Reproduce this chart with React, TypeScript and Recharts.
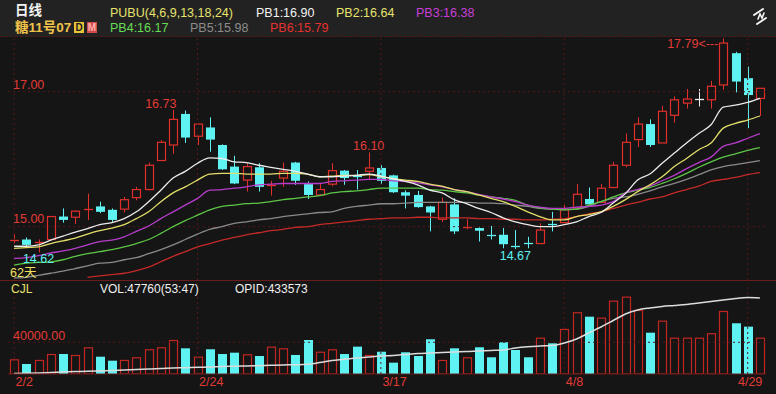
import React from 'react';
import {
  ComposedChart,
  Bar,
  Line,
  XAxis,
  YAxis,
  ReferenceLine,
  ReferenceDot,
} from 'recharts';

// trading days shown (62天)
const dates = [
  '2/2', '2/3', '2/4', '2/5', '2/6', '2/9', '2/10', '2/11', '2/12', '2/13',
  '2/17', '2/18', '2/19', '2/20', '2/23', '2/24', '2/25', '2/26', '2/27',
  '3/2', '3/3', '3/4', '3/5', '3/6', '3/9', '3/10', '3/11', '3/12', '3/13',
  '3/16', '3/17', '3/18', '3/19', '3/20', '3/23', '3/24', '3/25', '3/26',
  '3/27', '3/30', '3/31',
  '4/1', '4/2', '4/6', '4/7', '4/8', '4/9', '4/10', '4/13', '4/14', '4/15',
  '4/16', '4/17', '4/20', '4/21', '4/22', '4/23', '4/24', '4/27', '4/28',
  '4/29', '4/30',
];
const tickDates = ['2/2', '2/24', '3/17', '4/8', '4/29'];

const openP = [
  14.80, 14.81, 14.77, 14.81, 15.15, 15.14, 15.25, 15.30, 15.25, 15.26,
  15.43, 15.55, 15.98, 16.21, 16.67, 16.34, 16.47, 16.21, 15.89, 15.69,
  15.88, 15.61, 15.72, 15.95, 15.63, 15.47, 15.63, 15.83, 15.76, 15.82,
  15.87, 15.76, 15.51, 15.47, 15.30, 15.11, 15.33, 14.99, 14.98, 14.88,
  14.88, 14.72, 14.77, 14.75, 15.05, 15.06, 15.28, 15.41, 15.36, 15.58,
  15.91, 16.29, 16.52, 16.24, 16.65, 16.83, 16.89, 16.88, 17.10, 17.57,
  17.20, 16.90,
];
const highP = [
  14.89, 14.84, 14.81, 15.16, 15.27, 15.24, 15.49, 15.37, 15.27, 15.44,
  15.59, 15.95, 16.28, 16.73, 16.72, 16.53, 16.62, 16.22, 16.05, 15.94,
  15.94, 15.68, 15.95, 15.96, 15.67, 15.63, 15.94, 15.84, 15.84, 16.10,
  15.91, 15.77, 15.54, 15.53, 15.31, 15.43, 15.42, 15.11, 14.99, 15.01,
  14.98, 14.95, 14.85, 15.05, 15.22, 15.32, 15.63, 15.58, 15.63, 15.96,
  16.38, 16.62, 16.59, 16.79, 16.93, 17.04, 17.04, 17.16, 17.79, 17.59,
  17.37, 17.05,
];
const lowP = [
  14.76, 14.70, 14.62, 14.80, 15.06, 15.04, 15.10, 15.20, 15.07, 15.21,
  15.39, 15.54, 15.98, 16.08, 16.24, 16.21, 16.11, 15.84, 15.63, 15.52,
  15.52, 15.46, 15.59, 15.62, 15.41, 15.46, 15.60, 15.62, 15.55, 15.69,
  15.63, 15.50, 15.27, 15.28, 14.93, 15.07, 14.89, 14.96, 14.78, 14.81,
  14.68, 14.67, 14.68, 14.75, 14.93, 15.06, 15.25, 15.32, 15.36, 15.57,
  15.88, 16.18, 16.18, 16.24, 16.54, 16.75, 16.78, 16.75, 17.03, 16.99,
  16.46, 16.64,
];
const closeP = [
  14.81, 14.73, 14.78, 15.15, 15.10, 15.23, 15.26, 15.22, 15.10, 15.40,
  15.55, 15.91, 16.25, 16.59, 16.32, 16.52, 16.29, 15.85, 15.64, 15.89,
  15.59, 15.62, 15.82, 15.68, 15.47, 15.55, 15.83, 15.72, 15.75, 15.87,
  15.68, 15.51, 15.46, 15.29, 15.21, 15.36, 14.93, 15.01, 14.94, 14.87,
  14.74, 14.71, 14.76, 14.95, 15.04, 15.25, 15.48, 15.33, 15.57, 15.91,
  16.25, 16.52, 16.21, 16.71, 16.88, 16.89, 16.89, 17.08, 17.72, 17.15,
  16.95, 17.05,
];

// PUBU(4,6,9,13,18,24) lines
const pb1 = [
  14.71, 14.71, 14.73, 14.80, 14.86, 14.92, 14.97, 15.03, 15.06, 15.12,
  15.22, 15.37, 15.54, 15.72, 15.82, 15.94, 16.02, 16.01, 15.96, 15.95,
  15.91, 15.88, 15.85, 15.82, 15.78, 15.74, 15.74, 15.75, 15.76, 15.78,
  15.75, 15.71, 15.67, 15.62, 15.54, 15.50, 15.40, 15.34, 15.27, 15.21,
  15.13, 15.07, 15.03, 15.00, 15.00, 15.03, 15.07, 15.15, 15.21, 15.35,
  15.49, 15.69, 15.78, 15.94, 16.09, 16.24, 16.38, 16.51, 16.77, 16.80,
  16.84, 16.90,
];
const pb2 = [
  14.68, 14.69, 14.70, 14.75, 14.79, 14.83, 14.89, 14.94, 14.98, 15.03,
  15.12, 15.22, 15.37, 15.50, 15.59, 15.69, 15.78, 15.79, 15.79, 15.78,
  15.78, 15.78, 15.79, 15.79, 15.78, 15.74, 15.75, 15.76, 15.76, 15.77,
  15.74, 15.71, 15.69, 15.67, 15.63, 15.60, 15.55, 15.52, 15.47, 15.42,
  15.37, 15.30, 15.22, 15.15, 15.10, 15.10, 15.15, 15.18, 15.22, 15.30,
  15.40, 15.52, 15.62, 15.74, 15.89, 16.01, 16.14, 16.24, 16.46, 16.53,
  16.58, 16.64,
];
const pb3 = [
  14.53, 14.54, 14.57, 14.61, 14.64, 14.68, 14.73, 14.78, 14.80, 14.85,
  14.93, 15.01, 15.12, 15.22, 15.32, 15.42, 15.54, 15.55, 15.57, 15.59,
  15.62, 15.63, 15.64, 15.64, 15.64, 15.64, 15.67, 15.68, 15.69, 15.70,
  15.70, 15.68, 15.67, 15.65, 15.62, 15.59, 15.55, 15.52, 15.48, 15.44,
  15.41, 15.37, 15.32, 15.29, 15.27, 15.27, 15.29, 15.30, 15.32, 15.37,
  15.50, 15.55, 15.60, 15.68, 15.76, 15.86, 15.95, 16.03, 16.19, 16.24,
  16.31, 16.38,
];
const pb4 = [
  14.43, 14.46, 14.47, 14.48, 14.51, 14.56, 14.60, 14.63, 14.66, 14.70,
  14.75, 14.81, 14.90, 15.00, 15.09, 15.17, 15.25, 15.30, 15.32, 15.34,
  15.35, 15.37, 15.40, 15.42, 15.44, 15.46, 15.50, 15.52, 15.53, 15.55,
  15.57, 15.57, 15.57, 15.57, 15.55, 15.54, 15.52, 15.50, 15.47, 15.44,
  15.42, 15.39, 15.32, 15.28, 15.26, 15.25, 15.26, 15.32, 15.37, 15.44,
  15.50, 15.54, 15.58, 15.64, 15.71, 15.79, 15.88, 15.96, 16.03, 16.08,
  16.13, 16.17,
];
const pb5 = [
  14.24, 14.25, 14.28, 14.31, 14.34, 14.38, 14.42, 14.46, 14.47, 14.51,
  14.54, 14.60, 14.66, 14.73, 14.81, 14.89, 14.96, 15.00, 15.05, 15.07,
  15.10, 15.12, 15.15, 15.17, 15.19, 15.21, 15.22, 15.27, 15.30, 15.32,
  15.34, 15.34, 15.35, 15.36, 15.36, 15.36, 15.36, 15.36, 15.35, 15.35,
  15.34, 15.32, 15.30, 15.27, 15.26, 15.26, 15.26, 15.30, 15.37, 15.42,
  15.44, 15.48, 15.53, 15.59, 15.64, 15.70, 15.77, 15.84, 15.89, 15.92,
  15.95, 15.98,
];
const pb6 = [
  null, null, null, null, null, null, 14.25, 14.27, 14.29, 14.31,
  14.35, 14.40, 14.48, 14.56, 14.63, 14.70, 14.75, 14.80, 14.84, 14.88,
  14.91, 14.94, 14.96, 14.99, 15.00, 15.03, 15.05, 15.07, 15.09, 15.11,
  15.12, 15.13, 15.13, 15.14, 15.14, 15.13, 15.13, 15.13, 15.12, 15.12,
  15.11, 15.11, 15.10, 15.10, 15.11, 15.12, 15.15, 15.19, 15.22, 15.27,
  15.32, 15.36, 15.41, 15.44, 15.50, 15.55, 15.60, 15.67, 15.70, 15.73,
  15.77, 15.80,
];

// CJL volume and its average line
const vol = [
  18500, 12600, 17700, 25200, 25200, 24000, 33700, 21800, 16800, 17700,
  21100, 31200, 33700, 42900, 32400, 21800, 31200, 25200, 26900, 24900,
  22700, 34500, 32400, 24000, 42900, 28100, 31200, 25200, 34500, 24000,
  28100, 14300, 27400, 22700, 43800, 17700, 32400, 21100, 33700, 21100,
  40000, 30300, 21100, 45800, 38700, 56800, 77900, 72300, 71100, 92500,
  97600, 80800, 52100, 67300, 45800, 45800, 45800, 51400, 79500, 64000,
  59700, 45800,
];
const volMa = [
  600, 900, 1300, 1900, 2500, 3100, 3500, 4000, 4400, 5000,
  5700, 6300, 6900, 7600, 8000, 8500, 8800, 9500, 9800, 10100,
  10500, 11000, 11400, 11700, 12200, 14500, 17000, 18500, 20200, 21500,
  22700, 23300, 24600, 25900, 26500, 27100, 27800, 28400, 29000, 29700,
  30300, 32800, 34400, 35300, 36000, 39100, 44200, 51700, 59300, 67500,
  75700, 80800, 83300, 85200, 86400, 87700, 89600, 91500, 93400, 95300,
  96500, 95900,
];

const rows = dates.map((date, i) => ({
  date,
  open: openP[i],
  high: highP[i],
  low: lowP[i],
  close: closeP[i],
  pb1: pb1[i],
  pb2: pb2[i],
  pb3: pb3[i],
  pb4: pb4[i],
  pb5: pb5[i],
  pb6: pb6[i],
  vol: vol[i],
  volMa: volMa[i],
}));

const FONT = "'Liberation Sans', Arial, 'Noto Sans CJK SC', sans-serif";
const UP = '#e0302c';
const DOWN = '#5ff2f2';
const FLAT = '#eeeeee';
const GRID = '#521818';
const AXIS = '#6b1d1d';
const LABEL_RED = '#e23b36';

const Candle = (props: any) => {
  const { x, y, width, height, payload } = props;
  if (x == null || !payload) return null;
  const top = Math.min(y, y + height);
  const h = Math.abs(height);
  const span = payload.high - payload.low;
  const toY = (v: number) => top + (span > 0 ? ((payload.high - v) / span) * h : 0);
  const cx = Math.round(x + width / 2) + 0.5;
  const yo = toY(payload.open);
  const yc = toY(payload.close);
  const color =
    payload.close > payload.open ? UP : payload.close < payload.open ? DOWN : FLAT;
  const bt = Math.min(yo, yc);
  const bb = Math.max(yo, yc);
  if (bb - bt < 1.6) {
    const ym = Math.round((bt + bb) / 2) + 0.5;
    return (
      <g>
        <line x1={cx} x2={cx} y1={top} y2={top + h} stroke={color} />
        <line x1={cx - 4.5} x2={cx + 4.5} y1={ym} y2={ym} stroke={color} strokeWidth={1.3} />
      </g>
    );
  }
  if (color === UP) {
    return (
      <g>
        <line x1={cx} x2={cx} y1={top} y2={bt} stroke={UP} />
        <line x1={cx} x2={cx} y1={bb} y2={top + h} stroke={UP} />
        <rect x={cx - 4} y={bt} width={8} height={bb - bt} fill="none" stroke={UP} strokeWidth={1.2} />
      </g>
    );
  }
  return (
    <g>
      <line x1={cx} x2={cx} y1={top} y2={top + h} stroke={DOWN} />
      <rect x={cx - 4.5} y={bt} width={9} height={bb - bt} fill={DOWN} />
    </g>
  );
};

const VolBar = (props: any) => {
  const { x, y, width, height, payload } = props;
  if (x == null || !payload) return null;
  const cx = Math.round(x + width / 2) + 0.5;
  const top = Math.min(y, y + height);
  const h = Math.abs(height);
  if (payload.close >= payload.open) {
    return (
      <rect x={cx - 4} y={top + 0.5} width={8} height={Math.max(h - 0.5, 0)} fill="none" stroke="#c02622" strokeWidth={1.2} />
    );
  }
  return <rect x={cx - 4.5} y={top} width={9} height={h} fill={DOWN} />;
};

const DateTick = (props: any) => {
  const { x, y, payload } = props;
  const last = payload.value === '4/29';
  return (
    <text
      x={last ? x + 2.5 : x + 1.5}
      y={y + 9.5}
      textAnchor={last ? 'middle' : 'start'}
      fill={LABEL_RED}
      fontSize={12.5}
      fontFamily={FONT}
    >
      {payload.value}
    </text>
  );
};

const axisLabel = (text: string, dy: number) => (p: any) => {
  const vb = p.viewBox || p;
  return (
    <text x={vb.x + 5} y={vb.y + dy} fill={LABEL_RED} fontSize={12.5} fontFamily={FONT}>
      {text}
    </text>
  );
};

const pointLabel =
  (text: string, dx: number, dy: number, anchor: string, color: string) => (p: any) => {
    const vb = p.viewBox || p;
    const cx = vb.x + (vb.width || 0) / 2;
    const cy = vb.y + (vb.height || 0) / 2;
    return (
      <text x={cx + dx} y={cy + dy} textAnchor={anchor} fill={color} fontSize={12.5} fontFamily={FONT}>
        {text}
      </text>
    );
  };

const Txt = ({ left, top, color, size = 12.5, bold = false, children }: any) => (
  <div
    style={{
      position: 'absolute',
      left,
      top,
      color,
      fontSize: size,
      fontWeight: bold ? 700 : 400,
      lineHeight: '14px',
      whiteSpace: 'nowrap',
      fontFamily: FONT,
    }}
  >
    {children}
  </div>
);

const Box = ({ left, bg, color, children }: any) => (
  <div
    style={{
      position: 'absolute',
      left,
      top: 22,
      width: 10,
      height: 11,
      background: bg,
      color,
      fontSize: 10,
      fontWeight: 700,
      lineHeight: '11px',
      textAlign: 'center',
      fontFamily: FONT,
    }}
  >
    {children}
  </div>
);

const App = () => {
  return (
    <div
      style={{
        position: 'fixed',
        left: 0,
        top: 0,
        width: 776,
        height: 394,
        background: '#151515',
        overflow: 'hidden',
        fontFamily: FONT,
      }}
    >
      {/* header */}
      <div
        style={{
          position: 'absolute',
          left: 0,
          top: 0,
          width: 776,
          height: 36,
          background: '#222222',
          borderBottom: `1px dashed ${GRID}`,
        }}
      />
      <Txt left={15} top={4} color="#f4f4f4" size={13.5} bold>日线</Txt>
      <Txt left={110} top={6} color="#e6e36c">PUBU(4,6,9,13,18,24)</Txt>
      <Txt left={256} top={6} color="#f2f2f2">PB1:16.90</Txt>
      <Txt left={336} top={6} color="#e6e36c">PB2:16.64</Txt>
      <Txt left={416} top={6} color="#c83ed8">PB3:16.38</Txt>
      <Txt left={15} top={20.5} color="#f0c24a" size={13.5} bold>糖11号07</Txt>
      <Box left={74} bg="#e9c43a" color="#1c1c1c">D</Box>
      <Box left={87} bg="#cf4a48" color="#ffb0b0">M</Box>
      <Txt left={110} top={20.5} color="#66dd55">PB4:16.17</Txt>
      <Txt left={190} top={20.5} color="#8c8c8c">PB5:15.98</Txt>
      <Txt left={270} top={20.5} color="#e5312e">PB6:15.79</Txt>
      <svg
        width={24}
        height={26}
        style={{ position: 'absolute', left: 750, top: 3 }}
        fill="none"
        stroke="#f4f4f4"
        strokeWidth={2}
        strokeLinecap="round"
      >
        <line x1={4} y1={12} x2={13} y2={6} />
        <line x1={7} y1={21} x2={16} y2={15} />
        <polyline points="8,16 10,11 12,15 14,10" strokeWidth={1.6} />
      </svg>

      {/* price pane */}
      <div style={{ position: 'absolute', left: 0, top: 0 }}>
        <ComposedChart
          width={776}
          height={282}
          data={rows}
          margin={{ top: 37, right: 10, bottom: 2, left: 8 }}
        >
          <XAxis dataKey="date" hide />
          <YAxis hide domain={[14.21, 17.81]} allowDataOverflow />
          {tickDates.map((d) => (
            <ReferenceLine key={d} x={d} stroke={GRID} strokeDasharray="2 3" />
          ))}
          <ReferenceLine y={17} stroke={GRID} strokeDasharray="2 3" label={axisLabel('17.00', -2.5)} />
          <ReferenceLine y={15} stroke={GRID} strokeDasharray="2 3" label={axisLabel('15.00', -3.5)} />
          <Line dataKey="pb6" stroke="#c42a28" strokeWidth={1.3} dot={false} type="monotone" isAnimationActive={false} />
          <Line dataKey="pb5" stroke="#8a8a8a" strokeWidth={1.3} dot={false} type="monotone" isAnimationActive={false} />
          <Line dataKey="pb4" stroke="#5cc646" strokeWidth={1.3} dot={false} type="monotone" isAnimationActive={false} />
          <Line dataKey="pb3" stroke="#b63ccb" strokeWidth={1.3} dot={false} type="monotone" isAnimationActive={false} />
          <Line dataKey="pb2" stroke="#e2de6a" strokeWidth={1.3} dot={false} type="monotone" isAnimationActive={false} />
          <Line dataKey="pb1" stroke="#ececec" strokeWidth={1.3} dot={false} type="monotone" isAnimationActive={false} />
          <Bar
            dataKey={(d: any) => [d.low, d.high]}
            shape={<Candle />}
            isAnimationActive={false}
          />
          <ReferenceDot x="2/19" y={16.73} r={0} stroke="none" label={pointLabel('16.73', 0, -2, 'middle', LABEL_RED)} />
          <ReferenceDot x="3/16" y={16.1} r={0} stroke="none" label={pointLabel('16.10', 0, -2, 'middle', LABEL_RED)} />
          <ReferenceDot x="4/27" y={17.79} r={0} stroke="none" label={pointLabel('17.79<---', -5, 10, 'end', LABEL_RED)} />
          <ReferenceDot x="2/4" y={14.62} r={0} stroke="none" label={pointLabel('14.62', 0, 11, 'middle', DOWN)} />
          <ReferenceDot x="4/1" y={14.67} r={0} stroke="none" label={pointLabel('14.67', 0, 11.5, 'middle', DOWN)} />
        </ComposedChart>
      </div>
      <Txt left={10} top={265.5} color="#f0e060">62天</Txt>

      {/* pane separator */}
      <div style={{ position: 'absolute', left: 0, top: 280, width: 776, height: 1, background: AXIS }} />

      {/* volume pane */}
      <div style={{ position: 'absolute', left: 0, top: 280 }}>
        <ComposedChart
          width={776}
          height={114}
          data={rows}
          margin={{ top: 3, right: 10, bottom: 0, left: 8 }}
        >
          <XAxis
            dataKey="date"
            ticks={tickDates}
            interval={0}
            tick={<DateTick />}
            tickLine={false}
            tickSize={0}
            axisLine={{ stroke: AXIS }}
            height={20}
          />
          <YAxis hide domain={[0, 114800]} allowDataOverflow />
          {tickDates.map((d) => (
            <ReferenceLine key={d} x={d} stroke={GRID} strokeDasharray="2 3" />
          ))}
          <ReferenceLine y={40000} stroke={GRID} strokeDasharray="2 3" label={axisLabel('40000.00', -2.3)} />
          <Bar dataKey="vol" shape={<VolBar />} isAnimationActive={false} />
          <Line dataKey="volMa" stroke="#dcdcdc" strokeWidth={1.5} dot={false} type="monotone" isAnimationActive={false} />
        </ComposedChart>
      </div>
      <Txt left={11} top={282} color="#e6e36c" size={12}>CJL</Txt>
      <Txt left={100} top={282} color="#f0f0f0" size={12}>VOL:47760(53:47)</Txt>
      <Txt left={235} top={282} color="#f0f0f0" size={12}>OPID:433573</Txt>
    </div>
  );
};

export default App;
